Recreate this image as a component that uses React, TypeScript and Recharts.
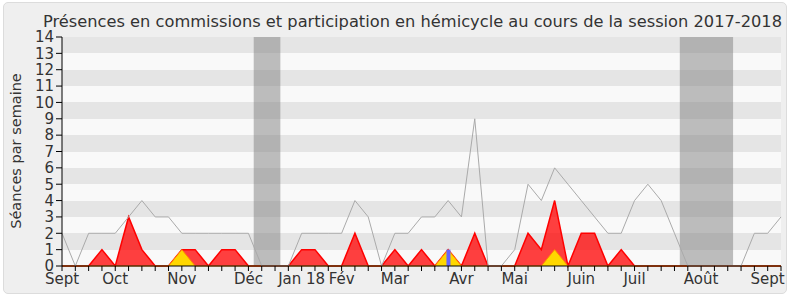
import React from 'react';
import { ComposedChart, Area, Line, Bar, XAxis, YAxis, CartesianGrid, ReferenceArea } from 'recharts';

// weekly values, session 2017-2018 (55 weeks)
const hemicycle = [
  2, 0, 2, 2, 2, 3, 4, 3, 3, 2,
  2, 2, 2, 2, 2, 0, 0, 0, 2, 2,
  2, 2, 4, 3, 0, 2, 2, 3, 3, 4,
  3, 9, 0, 0, 1, 5, 4, 6, 5, 4,
  3, 2, 2, 4, 5, 4, 2, 0, 0, 0,
  0, 0, 2, 2, 3,
];
const commissions = [
  0, 0, 0, 1, 0, 3, 1, 0, 0, 1,
  1, 0, 1, 1, 0, 0, 0, 0, 1, 1,
  0, 0, 2, 0, 0, 1, 0, 1, 0, 1,
  0, 2, 0, 0, 0, 2, 1, 4, 0, 2,
  2, 0, 1, 0, 0, 0, 0, 0, 0, 0,
  0, 0, 0, 0, 0,
];
const yellowSeries = [
  0, 0, 0, 0, 0, 0, 0, 0, 0, 1,
  0, 0, 0, 0, 0, 0, 0, 0, 0, 0,
  0, 0, 0, 0, 0, 0, 0, 0, 0, 1,
  0, 0, 0, 0, 0, 0, 0, 1, 0, 0,
  0, 0, 0, 0, 0, 0, 0, 0, 0, 0,
  0, 0, 0, 0, 0,
];
const blueSeries = [
  0, 0, 0, 0, 0, 0, 0, 0, 0, 0,
  0, 0, 0, 0, 0, 0, 0, 0, 0, 0,
  0, 0, 0, 0, 0, 0, 0, 0, 0, 1,
  0, 0, 0, 0, 0, 0, 0, 0, 0, 0,
  0, 0, 0, 0, 0, 0, 0, 0, 0, 0,
  0, 0, 0, 0, 0,
];
const monthTickWeeks = [0, 4, 9, 14, 18, 21, 25, 30, 34, 39, 43, 48, 53];
const monthLabels = ['Sept', 'Oct', 'Nov', 'Déc', 'Jan 18', 'Fév', 'Mar', 'Avr', 'Mai', 'Juin', 'Juil', 'Août', 'Sept'];
const yTicks = [0, 1, 2, 3, 4, 5, 6, 7, 8, 9, 10, 11, 12, 13, 14];
const vacations = [
  [14.4, 16.4],
  [46.4, 50.4],
];
const title = 'Présences en commissions et participation en hémicycle au cours de la session 2017-2018';
const yLabel = 'Séances par semaine';

const data = hemicycle.map((h, i) => ({
  week: i,
  hemicycle: h,
  commissions: commissions[i],
  yellow: yellowSeries[i],
  blue: blueSeries[i],
}));
const weekTicks = data.map((d) => d.week);

const FONT = 'DejaVu Sans, sans-serif';

const MonthTick = (props: any) => {
  const { x, y, payload } = props;
  const idx = monthTickWeeks.indexOf(payload.value);
  if (idx < 0) return <g />;
  return (
    <text x={x} y={y} dy="0.74em" textAnchor="middle" fontSize={15} fill="#333" fontFamily={FONT}>
      {monthLabels[idx]}
    </text>
  );
};

const BlueBar = (props: any) => {
  const { x, y, width, height } = props;
  if (!height || height <= 0) return <g />;
  const cx = x + width / 2;
  return <rect x={cx - 2} y={y} width={4} height={height} fill="#6666ff" />;
};

export default function App() {
  return (
    <div style={{ position: 'absolute', left: 0, top: 0, width: 790, height: 300, background: '#fff' }}>
      <div
        style={{
          position: 'absolute',
          left: 3,
          top: 2,
          width: 782,
          height: 290,
          background: '#efefef',
          border: '1px solid #dcdcdc',
          borderRadius: 5,
        }}
      />
      <div style={{ position: 'absolute', left: 0, top: 0 }}>
        <ComposedChart
          width={790}
          height={300}
          data={data}
          margin={{ top: 37, right: 9, bottom: 0, left: 0 }}
        >
          <CartesianGrid
            vertical={false}
            stroke="none"
            horizontalFill={['#e5e5e5', '#f9f9f9']}
            fillOpacity={1}
          />
          <XAxis
            dataKey="week"
            type="number"
            domain={[0, 54]}
            ticks={weekTicks}
            interval={0}
            height={34}
            tickSize={5}
            tick={<MonthTick />}
            stroke="#000"
            tickLine={{ stroke: '#000' }}
            axisLine={{ stroke: '#000' }}
          />
          <XAxis
            xAxisId="top"
            orientation="top"
            dataKey="week"
            type="number"
            domain={[0, 54]}
            ticks={weekTicks}
            interval={0}
            height={0}
            tickSize={2}
            tick={false}
            axisLine={false}
            tickLine={{ stroke: '#000' }}
          />
          <YAxis
            type="number"
            domain={[0, 14]}
            ticks={yTicks}
            interval={0}
            width={62}
            tickSize={6}
            tick={{ fontSize: 15, fill: '#333', fontFamily: FONT }}
            axisLine={{ stroke: '#000' }}
            tickLine={{ stroke: '#000' }}
          />
          {vacations.map(([a, b], k) => (
            <ReferenceArea key={k} x1={a} x2={b} y1={0} y2={14} fill="#7f7f7f" fillOpacity={0.5} stroke="none" />
          ))}
          <Line
            dataKey="hemicycle"
            type="linear"
            stroke="#aaaaaa"
            strokeWidth={1}
            dot={false}
            isAnimationActive={false}
          />
          <Area
            dataKey="commissions"
            type="linear"
            stroke="#ff0000"
            strokeWidth={1.5}
            fill="#ff0000"
            fillOpacity={0.75}
            isAnimationActive={false}
          />
          <Area
            dataKey="yellow"
            type="linear"
            stroke="#ff8c00"
            strokeWidth={1}
            fill="#ffd700"
            fillOpacity={1}
            isAnimationActive={false}
          />
          <Bar dataKey="blue" fill="#6666ff" barSize={4} shape={<BlueBar />} isAnimationActive={false} />
        </ComposedChart>
      </div>
      <svg width={790} height={300} style={{ position: 'absolute', left: 0, top: 0, pointerEvents: 'none' }}>
        <text x={43} y={27} fontSize={16} fill="#333" fontFamily={FONT} textLength={739} lengthAdjust="spacingAndGlyphs">
          {title}
        </text>
        <text
          x={16}
          y={151}
          transform="rotate(-90 16 151)"
          textAnchor="middle"
          dominantBaseline="central"
          fontSize={14.5}
          fill="#333"
          fontFamily={FONT}
        >
          {yLabel}
        </text>
      </svg>
    </div>
  );
}
